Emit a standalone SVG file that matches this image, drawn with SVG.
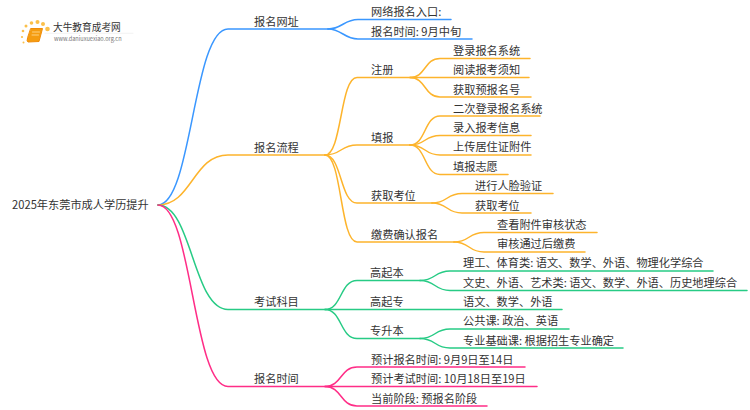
<svg xmlns="http://www.w3.org/2000/svg" width="750" height="410" viewBox="0 0 750 410">
<style>
text{font-family:"Noto Sans CJK SC","Noto Sans",sans-serif;font-size:11.2px;fill:#333}
path{fill:none;stroke-width:1.5;stroke-linecap:round}
.b path,path.b{stroke:#3a97ff}
.o path,path.o{stroke:#fdb42c}
.g path,path.g{stroke:#27cb85}
.p path,path.p{stroke:#ff2d87}
</style>
<rect width="750" height="410" fill="#fff"/>
<g id="logo">
<g fill="#fbc04a"><circle cx="47.500" cy="29" r="2.300"/><circle cx="43" cy="24" r="2"/><circle cx="37.500" cy="22" r="2"/><circle cx="31.500" cy="23" r="1.800"/><circle cx="26" cy="26" r="1.500"/><circle cx="23" cy="31" r="1.300"/><circle cx="22" cy="37" r="1.100"/><circle cx="23.500" cy="42.500" r="1"/></g>
<path d="M31 28.500H42.500L39 41.500L28 42Q26.500 41.500 27.500 38Z" style="fill:#f59c10;stroke:#f08c08;stroke-width:1"/>
<path d="M32.500 32H39.500M32 35H38.500" style="stroke:#ffe0a0;stroke-width:.8"/>
<path d="M45 33.300H133" style="stroke:#eee;stroke-width:.7"/>
<text x="53" y="30.500" style="font-size:9.700px">大牛教育成考网</text>
<text x="54" y="41" style="font-size:5.600px;fill:#777">www.daniuxuexiao.org.cn</text>
</g>
<g id="connectors">
<g class="b">
<path d="M158 205C192 205 193 29 228 29H328"/>
<path d="M328 29C342 29 344 19.500 358 19.500H451"/>
<path d="M328 29C342 29 344 39 358 39H472"/>
</g>
<g class="o">
<path d="M158 205C192 205 193 155 228 155H325"/>
<path d="M325 155C342 155 340 77.500 357 77.500H410"/>
<path d="M325 155C342 155 340 145 357 145H410"/>
<path d="M325 155C342 155 340 203 357 203H432"/>
<path d="M325 155C342 155 340 242 357 242H454"/>
<path d="M410 77.500C426 77.500 424 58.500 440 58.500H530"/>
<path d="M410 77.500H529"/>
<path d="M410 77.500C426 77.500 424 97 440 97H531"/>
<path d="M410 145C426 145 424 116 440 116H540"/>
<path d="M410 145C426 145 424 135.500 440 135.500H531"/>
<path d="M410 145C426 145 424 155 440 155H531"/>
<path d="M410 145C426 145 424 174.500 440 174.500H508"/>
<path d="M432 203C448 203 446 193.500 462 193.500H553"/>
<path d="M432 203C448 203 446 213 462 213H531"/>
<path d="M454 242C470 242 468 232.500 484 232.500H597"/>
<path d="M454 242C470 242 468 252 484 252H585"/>
</g>
<g class="g">
<path d="M158 205C192 205 193 309.500 228 309.500H325"/>
<path d="M325 309.500C342 309.500 340 280.500 357 280.500H420"/>
<path d="M325 309.500H562"/>
<path d="M325 309.500C342 309.500 340 338.500 357 338.500H420"/>
<path d="M420 280.500C436 280.500 434 271 450 271H713"/>
<path d="M420 280.500C436 280.500 434 290.500 450 290.500H747"/>
<path d="M420 338.500C436 338.500 434 329 450 329H569"/>
<path d="M420 338.500C436 338.500 434 348 450 348H623"/>
</g>
<g class="p">
<path d="M158 205C192 205 193 386.500 228 386.500H325"/>
<path d="M325 386.500C342 386.500 340 367 357 367H525"/>
<path d="M325 386.500H537"/>
<path d="M325 386.500C342 386.500 340 406 357 406H487"/>
</g>
</g>
<g id="root"><text x="12" y="209">2025年东莞市成人学历提升</text></g>
<g id="n1"><text x="254" y="26">报名网址</text></g>
<g id="n1-1"><text x="371" y="16">网络报名入口:</text></g>
<g id="n1-2"><text x="371" y="36">报名时间: 9月中旬</text></g>
<g id="n2"><text x="254" y="152">报名流程</text></g>
<g id="n2-1"><text x="371" y="74">注册</text></g>
<g id="n2-1-1"><text x="453" y="55">登录报名系统</text></g>
<g id="n2-1-2"><text x="453" y="74">阅读报考须知</text></g>
<g id="n2-1-3"><text x="453" y="94">获取预报名号</text></g>
<g id="n2-2"><text x="371" y="142">填报</text></g>
<g id="n2-2-1"><text x="453" y="113">二次登录报名系统</text></g>
<g id="n2-2-2"><text x="453" y="132">录入报考信息</text></g>
<g id="n2-2-3"><text x="453" y="151">上传居住证附件</text></g>
<g id="n2-2-4"><text x="453" y="171">填报志愿</text></g>
<g id="n2-3"><text x="371" y="200">获取考位</text></g>
<g id="n2-3-1"><text x="475" y="190">进行人脸验证</text></g>
<g id="n2-3-2"><text x="475" y="210">获取考位</text></g>
<g id="n2-4"><text x="371" y="239">缴费确认报名</text></g>
<g id="n2-4-1"><text x="497" y="229">查看附件审核状态</text></g>
<g id="n2-4-2"><text x="497" y="248">审核通过后缴费</text></g>
<g id="n3"><text x="254" y="306">考试科目</text></g>
<g id="n3-1"><text x="370" y="277">高起本</text></g>
<g id="n3-1-1"><text x="463" y="267">理工、体育类: 语文、数学、外语、物理化学综合</text></g>
<g id="n3-1-2"><text x="463" y="287">文史、外语、艺术类: 语文、数学、外语、历史地理综合</text></g>
<g id="n3-2"><text x="370" y="306">高起专</text></g>
<g id="n3-2-1"><text x="463" y="306">语文、数学、外语</text></g>
<g id="n3-3"><text x="370" y="335">专升本</text></g>
<g id="n3-3-1"><text x="463" y="325">公共课: 政治、英语</text></g>
<g id="n3-3-2"><text x="463" y="345">专业基础课: 根据招生专业确定</text></g>
<g id="n4"><text x="254" y="383">报名时间</text></g>
<g id="n4-1"><text x="371" y="364">预计报名时间: 9月9日至14日</text></g>
<g id="n4-2"><text x="371" y="383">预计考试时间: 10月18日至19日</text></g>
<g id="n4-3"><text x="371" y="403">当前阶段: 预报名阶段</text></g>
</svg>
